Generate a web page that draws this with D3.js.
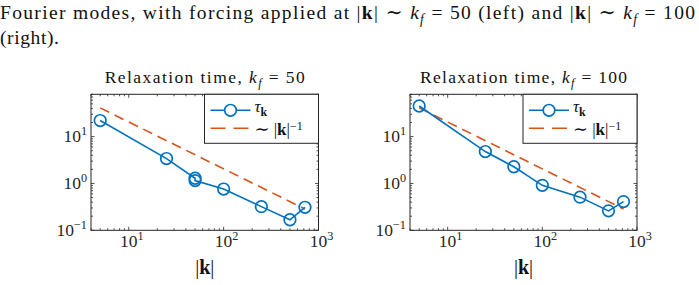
<!DOCTYPE html>
<html><head><meta charset="utf-8">
<script src="https://cdn.jsdelivr.net/npm/d3@7"></script>
<style>body{margin:0;background:#fff} svg{display:block}</style></head>
<body>
<svg id="c" width="699" height="285"></svg>
<script>
// ---- data ----
const kLeft = [5, 25, 50, 50, 100, 250, 500, 720];
const tauLeft = [22, 3.4, 1.29, 1.15, 0.76, 0.32, 0.168, 0.31];
const kRight = [5, 25, 50, 100, 250, 500, 720];
const tauRight = [45, 4.8, 2.27, 0.91, 0.51, 0.26, 0.41];
const refCoefLeft = 205;
const refCoefRight = 205;
const kfValues = ["50", "100"];
const xTickValues = [10, 100, 1000];
const xTickExps = ["1", "2", "3"];
const yTickValues = [0.1, 1, 10];
const yTickExps = ["\u22121", "0", "1"];
const xDomain = [4, 1000];
const yDomain = [0.1, 80];

const FONT = "'Liberation Serif','DejaVu Serif',serif";
const SYM = "'DejaVu Serif',serif";
const BLUE = "#0072BD", ORANGE = "#D95319", AX = "#262626";
const svg = d3.select("#c");

function rich(sel, segs, size, subK = 0.25, supK = 0.4) {
  let shift = 0;
  segs.forEach(s => {
    const ts = sel.append("tspan").text(s.t);
    let target = 0, fs = size;
    if (s.sub) { target = subK * size; fs = 0.7 * size; }
    if (s.sup) { target = -supK * size; fs = 0.7 * size; }
    ts.attr("font-size", fs);
    if (target !== shift) { ts.attr("dy", target - shift); shift = target; }
    if (s.b) ts.attr("font-weight", "bold");
    if (s.i) ts.attr("font-style", "italic");
    if (s.sym) ts.attr("font-family", SYM).attr("font-size", fs * 1.05);
  });
  return sel;
}

// ---- caption ----
const capSize = 19.5;
const cap1 = svg.append("text").attr("x", 0).attr("y", 19).attr("font-family", FONT).attr("fill", "#111");
rich(cap1, [
  {t: "Fourier modes, with forcing applied at |"}, {t: "k", b: 1}, {t: "| "}, {t: "\u223C", sym: 1}, {t: " "},
  {t: "k", i: 1}, {t: "f", i: 1, sub: 1}, {t: " = 50 (left) and |"}, {t: "k", b: 1},
  {t: "| "}, {t: "\u223C", sym: 1}, {t: " "}, {t: "k", i: 1}, {t: "f", i: 1, sub: 1}, {t: " = 100"}
], capSize);
cap1.attr("textLength", 695).attr("lengthAdjust", "spacing");
svg.append("text").attr("x", 0).attr("y", 43.5).attr("font-family", FONT).attr("font-size", capSize)
  .attr("fill", "#111").attr("letter-spacing", 0.6).text("(right).");

function panel(cfg) {
  const x = d3.scaleLog().domain(xDomain).range([cfg.x0, cfg.x1]);
  const y = d3.scaleLog().domain(yDomain).range([cfg.y1, cfg.y0]);
  const g = svg.append("g");

  // axes & ticks (inside, mirrored)
  const xt = [];
  for (let d = 1; d <= 1000; d *= 10) for (let m = 1; m < 10; m++) { const v = d * m; if (v >= xDomain[0] && v <= xDomain[1]) xt.push(v); }
  const yt = [];
  for (let d = 0.1; d <= 10; d *= 10) for (let m = 1; m < 10; m++) { const v = +(d * m).toPrecision(3); if (v >= yDomain[0] && v <= yDomain[1]) yt.push(v); }
  const isMajor = v => Math.abs(Math.log10(v) - Math.round(Math.log10(v))) < 1e-6;
  xt.forEach(v => {
    const L = isMajor(v) ? 3.5 : 2;
    [[cfg.y1, -L], [cfg.y0, L]].forEach(([yy, dl]) =>
      g.append("line").attr("x1", x(v)).attr("x2", x(v)).attr("y1", yy).attr("y2", yy + dl).attr("stroke", AX).attr("stroke-width", 0.8));
  });
  yt.forEach(v => {
    const L = isMajor(v) ? 3.5 : 2;
    [[cfg.x0, L], [cfg.x1, -L]].forEach(([xx, dl]) =>
      g.append("line").attr("y1", y(v)).attr("y2", y(v)).attr("x1", xx).attr("x2", xx + dl).attr("stroke", AX).attr("stroke-width", 0.8));
  });
  g.append("rect").attr("x", cfg.x0).attr("y", cfg.y0).attr("width", cfg.x1 - cfg.x0).attr("height", cfg.y1 - cfg.y0)
    .attr("fill", "none").attr("stroke", AX).attr("stroke-width", 1);

  // tick labels
  xTickValues.forEach((v, i) => {
    const t = g.append("text").attr("x", x(v) + 3).attr("y", cfg.y1 + 17).attr("text-anchor", "middle")
      .attr("font-family", FONT).attr("fill", AX);
    rich(t, [{t: "10"}, {t: xTickExps[i], sup: 1}], 17.5);
  });
  yTickValues.forEach((v, i) => {
    const t = g.append("text").attr("x", cfg.x0 - 4).attr("y", y(v) + 5.5).attr("text-anchor", "end")
      .attr("font-family", FONT).attr("fill", AX);
    rich(t, [{t: "10"}, {t: yTickExps[i], sup: 1}], 17.5);
  });

  // title & xlabel
  const ti = g.append("text").attr("y", 83).attr("font-family", FONT).attr("fill", "#111");
  rich(ti, [{t: "Relaxation time, "}, {t: "k", i: 1}, {t: "f", i: 1, sub: 1}, {t: " = " + cfg.kf}], 17.5);
  ti.attr("textLength", cfg.tw).attr("lengthAdjust", "spacing").attr("x", (cfg.x0 + cfg.x1) / 2 - cfg.tw / 2);
  const xl = g.append("text").attr("x", (cfg.x0 + cfg.x1) / 2).attr("y", 274).attr("text-anchor", "middle")
    .attr("font-family", FONT).attr("fill", "#111");
  rich(xl, [{t: "|"}, {t: "k", b: 1}, {t: "|"}], 20);

  // reference line
  const kr = [d3.min(cfg.k), d3.max(cfg.k)];
  g.append("path").attr("d", d3.line().x(d => x(d)).y(d => y(cfg.c / d))(kr))
    .attr("fill", "none").attr("stroke", ORANGE).attr("stroke-width", 1.6).attr("stroke-dasharray", "10,6");

  // data
  const pts = cfg.k.map((k, i) => [k, cfg.tau[i]]);
  g.append("path").attr("d", d3.line().x(d => x(d[0])).y(d => y(d[1]))(pts))
    .attr("fill", "none").attr("stroke", BLUE).attr("stroke-width", 1.6);
  g.selectAll(null).data(pts).join("circle").attr("cx", d => x(d[0])).attr("cy", d => y(d[1])).attr("r", 5.8)
    .attr("fill", "none").attr("stroke", BLUE).attr("stroke-width", 1.7);

  // legend
  const lx = cfg.lx, ly = cfg.y0, lw = 114, lh = 49;
  g.append("rect").attr("x", lx).attr("y", ly).attr("width", lw).attr("height", lh)
    .attr("fill", "#fff").attr("stroke", AX).attr("stroke-width", 1);
  g.append("line").attr("x1", lx + 6).attr("x2", lx + 46).attr("y1", ly + 16).attr("y2", ly + 16).attr("stroke", BLUE).attr("stroke-width", 1.6);
  g.append("circle").attr("cx", lx + 26).attr("cy", ly + 16).attr("r", 5.8).attr("fill", "#fff").attr("stroke", BLUE).attr("stroke-width", 1.7);
  g.append("line").attr("x1", lx + 6).attr("x2", lx + 46).attr("y1", ly + 34).attr("y2", ly + 34).attr("stroke", ORANGE).attr("stroke-width", 1.6).attr("stroke-dasharray", "15,8");
  const l1 = g.append("text").attr("x", lx + 50).attr("y", ly + 18).attr("font-family", FONT).attr("fill", "#111");
  rich(l1, [{t: "\u03C4", i: 1}, {t: "k", b: 1, sub: 1}], 17, 0.2, 0.33);
  const l2 = g.append("text").attr("x", lx + 50).attr("y", ly + 41).attr("font-family", FONT).attr("fill", "#111");
  rich(l2, [{t: "\u223C", sym: 1}, {t: " |"}, {t: "k", b: 1}, {t: "|"}, {t: "\u22121", sup: 1}], 17, 0.2, 0.33);
}

panel({x0: 91, x1: 318.5, y0: 94.3, y1: 230.3, k: kLeft, tau: tauLeft, c: refCoefLeft, kf: kfValues[0], lx: 204.5, tw: 200});
panel({x0: 410, x1: 637, y0: 94.3, y1: 230.3, k: kRight, tau: tauRight, c: refCoefRight, kf: kfValues[1], lx: 523, tw: 207});
</script>
</body></html>
